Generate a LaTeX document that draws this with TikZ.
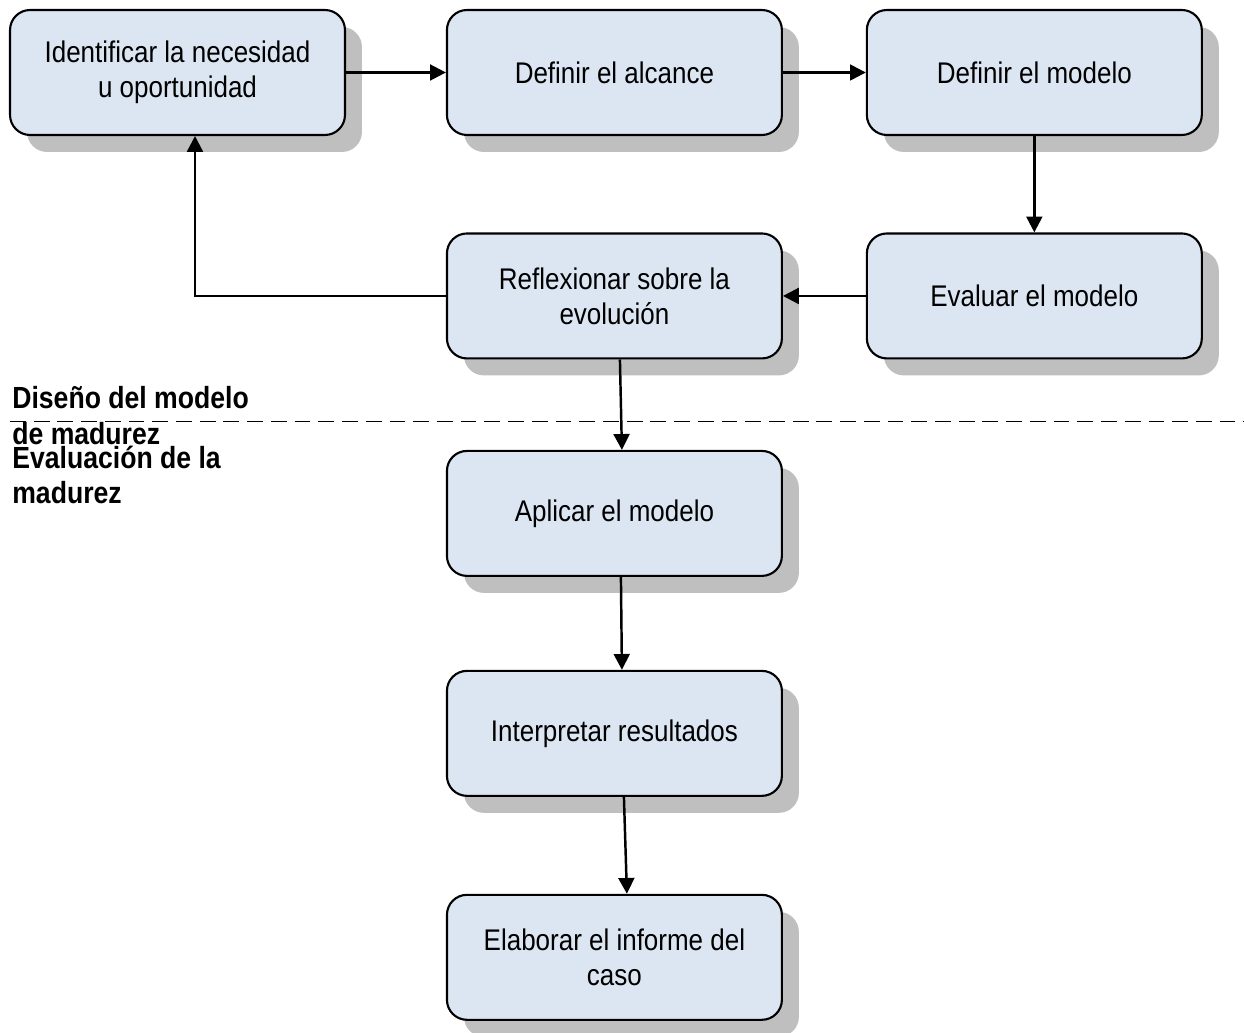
\documentclass[tikz,border=0pt]{standalone}
\usepackage{fontspec}
\setmainfont{Liberation Sans}[FakeStretch=0.87]
\usepackage{tikz}
\usetikzlibrary{positioning,shadows,arrows.meta}
\definecolor{cajaazul}{HTML}{DCE6F2}

\begin{document}
\begin{tikzpicture}[x=0.02cm,y=-0.02cm,node distance=4.4cm,on grid,
    >={Triangle[length=9pt,width=9pt]},
    paso/.style={draw,line width=1.2pt,rounded corners=0.4cm,fill=cajaazul,
      minimum width=6.7cm,minimum height=2.5cm,align=center,
      font=\fontsize{17}{20}\selectfont,
      drop shadow={shadow xshift=0.34cm,shadow yshift=-0.34cm,fill=black!25,opacity=1}},
    fase/.style={inner sep=0pt,align=left,anchor=north west}]
    \useasboundingbox (0,0) rectangle (1244,1033);
    \node[paso] (I) at (177.5,72.5) {Identificar la necesidad\\u oportunidad};
    \node[paso] (A) [right = 8.74cm of I]{Definir el alcance};
    \node[paso] (M) [right = 8.4cm of A]{Definir el modelo};
    \node[paso] (E) [below = 4.47cm of M]{Evaluar el modelo};
    \node[paso] (R) [left = 8.4cm of E]{Reflexionar sobre la\\evolución};
    \node[paso] (P) [below = 4.35cm of R]{Aplicar el modelo};
    \node[paso] (T) [below = 4.4cm of P]{Interpretar resultados};
    \node[paso] (C) [below = 4.48cm of T]{Elaborar el informe del\\caso};
    % fases
    \draw[line width=0.8pt,dash pattern=on 9pt off 4.5pt] (10,421.5) -- (1244,421.5);
    \node[fase,font=\bfseries\fontsize{17.4}{20.4}\selectfont] (dis) at (12,386) {Diseño del modelo\\de madurez};
    \node[fase,font=\bfseries\fontsize{17.4}{19.8}\selectfont] (eva) at (12,446) {Evaluación de la\\madurez};
    \path[->,line width=1.4pt]
    (I) edge [] (A)
    (A) edge [] (M)
    (M) edge [] (E)
    (E) edge [] (R)
    (R.west) edge [to path={-| (\tikztotarget)}] ([xshift=0.35cm]I.south)
    ([xshift=0.11cm]R.south) edge [] ([xshift=0.15cm]P.north)
    ([xshift=0.13cm]P.south) edge [] ([xshift=0.15cm]T.north)
    ([xshift=0.19cm]T.south) edge [] ([xshift=0.25cm]C.north)
    ;
\end{tikzpicture}
\end{document}
